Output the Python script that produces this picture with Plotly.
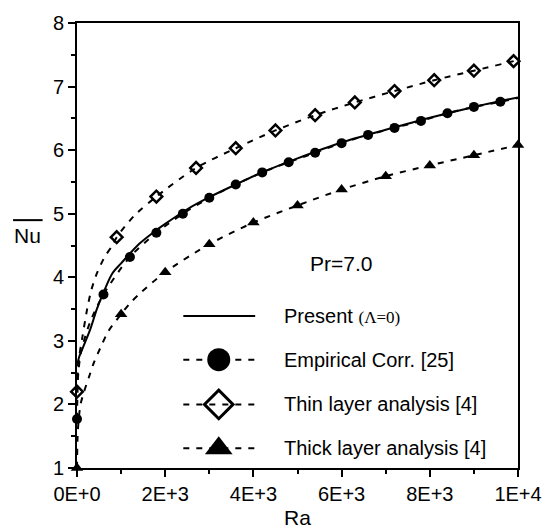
import plotly.graph_objects as go

# ---------------- data ----------------
# Present (Delta=0) solid curve
present_ra = [0, 50, 150, 300, 450, 600, 800, 1000, 1400, 1700, 2000, 2500, 3000,
              3600, 4200, 5000, 6000, 7000, 8000, 9000, 10000]
present_nu = [2.6, 2.75, 2.92, 3.18, 3.5, 3.76, 4.06, 4.22, 4.52, 4.69, 4.84, 5.07, 5.26,
              5.46, 5.65, 5.87, 6.12, 6.32, 6.51, 6.68, 6.83]

# Empirical correlation [25]: dashed line + filled circles
emp_line_ra = [0, 30, 100, 300, 600, 1200, 1800, 2400, 3000, 3600, 4200, 4800, 5400,
               6000, 6600, 7200, 7800, 8400, 9000, 9600, 10000]
emp_line_nu = [1.77, 2.5, 2.85, 3.3, 3.73, 4.32, 4.70, 5.0, 5.25, 5.46, 5.65, 5.81, 5.96,
               6.11, 6.24, 6.35, 6.46, 6.58, 6.68, 6.76, 6.82]
emp_mk_ra = [0, 600, 1200, 1800, 2400, 3000, 3600, 4200, 4800, 5400, 6000, 6600,
             7200, 7800, 8400, 9000, 9600]
emp_mk_nu = [1.77, 3.73, 4.32, 4.70, 5.0, 5.25, 5.46, 5.65, 5.81, 5.96, 6.11, 6.24,
             6.35, 6.46, 6.58, 6.68, 6.76]

# Thin layer analysis [4]: dashed line + open diamonds
thin_line_ra = [0, 40, 120, 230, 325, 450, 620, 800, 900, 1300, 1800, 2700, 3600, 4500,
                5400, 6300, 7200, 8100, 9000, 9900, 10000]
thin_line_nu = [2.2, 2.7, 3.05, 3.5, 3.8, 4.06, 4.31, 4.5, 4.63, 4.97, 5.27, 5.72, 6.03, 6.31,
                6.55, 6.75, 6.93, 7.10, 7.25, 7.40, 7.42]
thin_mk_ra = [0, 900, 1800, 2700, 3600, 4500, 5400, 6300, 7200, 8100, 9000, 9900]
thin_mk_nu = [2.2, 4.63, 5.27, 5.72, 6.03, 6.31, 6.55, 6.75, 6.93, 7.10, 7.25, 7.40]

# Thick layer analysis [4]: dashed line + filled triangles
thick_line_ra = [0, 20, 80, 160, 266, 390, 550, 710, 1000, 1200, 1450, 2000, 3000, 4000,
                 5000, 6000, 7000, 8000, 9000, 10000]
thick_line_nu = [1.0, 1.6, 2.0, 2.2, 2.42, 2.67, 2.92, 3.15, 3.42, 3.59, 3.76, 4.08, 4.52, 4.86,
                 5.13, 5.38, 5.59, 5.76, 5.92, 6.08]
thick_mk_ra = [0, 1000, 2000, 3000, 4000, 5000, 6000, 7000, 8000, 9000, 10000]
thick_mk_nu = [1.0, 3.42, 4.08, 4.52, 4.86, 5.13, 5.38, 5.59, 5.76, 5.92, 6.08]

x_tickvals = [0, 2000, 4000, 6000, 8000, 10000]
x_ticktext = ["0E+0", "2E+3", "4E+3", "6E+3", "8E+3", "1E+4"]
y_tickvals = [1, 2, 3, 4, 5, 6, 7, 8]

legend_labels = ["Present <span style='font-family:Liberation Serif;font-size:17px'>(\u039b=0)</span>",
                 "Empirical Corr. [25]",
                 "Thin layer analysis [4]",
                 "Thick layer analysis [4]"]

# ---------------- figure ----------------
FONT = "Liberation Sans, Arial, sans-serif"
DASH = "6px,7px"
fig = go.Figure()

fig.add_trace(go.Scatter(x=present_ra, y=present_nu, mode="lines", line=dict(color="black", width=2, shape="spline", smoothing=0.8),
                         cliponaxis=False, showlegend=False))
fig.add_trace(go.Scatter(x=emp_line_ra, y=emp_line_nu, mode="lines", line=dict(color="black", width=2, dash=DASH, shape="spline", smoothing=0.8),
                         cliponaxis=False, showlegend=False))
fig.add_trace(go.Scatter(x=thin_line_ra, y=thin_line_nu, mode="lines", line=dict(color="black", width=2, dash=DASH, shape="spline", smoothing=0.8),
                         cliponaxis=False, showlegend=False))
fig.add_trace(go.Scatter(x=thick_line_ra, y=thick_line_nu, mode="lines", line=dict(color="black", width=2, dash=DASH, shape="spline", smoothing=0.8),
                         cliponaxis=False, showlegend=False))
fig.add_trace(go.Scatter(x=emp_mk_ra, y=emp_mk_nu, mode="markers",
                         marker=dict(symbol="circle", size=10, color="black"), cliponaxis=False, showlegend=False))
fig.add_trace(go.Scatter(x=thin_mk_ra, y=thin_mk_nu, mode="markers",
                         marker=dict(symbol="diamond-open", size=9, color="black", line=dict(width=2.5)), cliponaxis=False, showlegend=False))
fig.add_trace(go.Scatter(x=thick_mk_ra, y=thick_mk_nu, mode="markers",
                         marker=dict(symbol="triangle-up", size=11, color="black"), cliponaxis=False, showlegend=False))

# ---- custom legend drawn on an overlay pixel-like axis (0..448) ----
leg_rows = [153, 109, 64, 20]
leg_x0, leg_x1, leg_mx, leg_tx = 108, 181, 144, 208
styles = [
    (dict(color="black", width=2), None),
    (dict(color="black", width=2, dash=DASH), dict(symbol="circle", size=23, color="black")),
    (dict(color="black", width=2, dash=DASH), dict(symbol="diamond-open", size=22, color="black", line=dict(width=3))),
    (dict(color="black", width=2, dash=DASH), dict(symbol="triangle-up", size=24, color="black")),
]
for yrow, (ln, mk), lab in zip(leg_rows, styles, legend_labels):
    fig.add_trace(go.Scatter(x=[leg_x0, leg_x1], y=[yrow, yrow], mode="lines", line=ln,
                             xaxis="x2", yaxis="y2", showlegend=False, hoverinfo="skip"))
    if mk is not None:
        fig.add_trace(go.Scatter(x=[leg_mx], y=[yrow], mode="markers", marker=mk,
                                 xaxis="x2", yaxis="y2", showlegend=False, hoverinfo="skip"))
    fig.add_annotation(x=leg_tx, y=yrow, xref="x2", yref="y2", text=lab, showarrow=False,
                       xanchor="left", yanchor="middle", font=dict(family=FONT, size=20, color="black"))

fig.add_annotation(x=268, y=206, xref="x2", yref="y2", text="Pr=7.0", showarrow=False,
                   xanchor="center", yanchor="middle", font=dict(family=FONT, size=21, color="black"))

# axis titles
fig.add_annotation(x=0.5, y=-0.112, xref="paper", yref="paper", text="Ra", showarrow=False,
                   xanchor="center", yanchor="middle", font=dict(family=FONT, size=21, color="black"))
fig.add_annotation(x=-0.112, y=0.522, xref="paper", yref="paper", text="Nu", showarrow=False,
                   xanchor="center", yanchor="middle", font=dict(family=FONT, size=21, color="black"))
fig.add_shape(type="line", xref="paper", yref="paper", x0=-0.145, x1=-0.078, y0=0.557, y1=0.557,
              line=dict(color="black", width=2))

axis_common = dict(showline=True, linecolor="black", linewidth=2, mirror=True, showgrid=False,
                   zeroline=False, ticks="outside", ticklen=7, tickwidth=1.5, tickcolor="black",
                   tickfont=dict(family=FONT, size=20, color="black"))
fig.update_layout(
    width=554, height=532,
    margin=dict(l=77, r=29, t=20, b=64),
    paper_bgcolor="white", plot_bgcolor="white",
    xaxis=dict(range=[0, 10000], tickmode="array", tickvals=x_tickvals, ticktext=x_ticktext,
               minor=dict(dtick=1000, ticks="outside", ticklen=4, tickwidth=1.5, tickcolor="black"),
               **axis_common),
    yaxis=dict(range=[1, 8], tickmode="array", tickvals=y_tickvals,
               minor=dict(dtick=0.5, ticks="outside", ticklen=4, tickwidth=1.5, tickcolor="black"),
               **axis_common),
    xaxis2=dict(range=[0, 448], overlaying="x", visible=False, fixedrange=True),
    yaxis2=dict(range=[0, 448], overlaying="y", visible=False, fixedrange=True),
)

fig.write_html("out.html")
